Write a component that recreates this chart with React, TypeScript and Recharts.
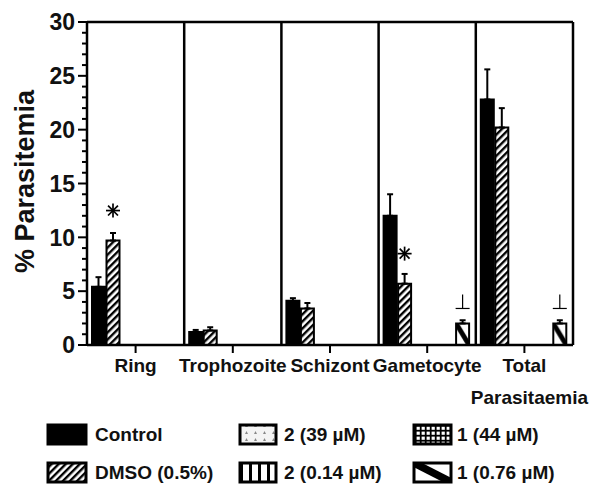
import React from 'react';
import { BarChart, Bar, XAxis, YAxis, ErrorBar, ReferenceLine, Legend, LabelList } from 'recharts';

const categories = ['Ring', 'Trophozoite', 'Schizont', 'Gametocyte', 'Total\nParasitaemia'];
const controlValues = [5.4, 1.2, 4.1, 12.0, 22.8];
const controlErrors = [0.9, 0.2, 0.25, 2.0, 2.8];
const dmsoValues = [9.7, 1.35, 3.4, 5.7, 20.2];
const dmsoErrors = [0.7, 0.3, 0.5, 0.9, 1.8];
const cmpd2HighValues: (number | null)[] = [null, null, null, null, null];
const cmpd2LowValues: (number | null)[] = [null, null, null, null, null];
const cmpd1HighValues: (number | null)[] = [null, null, null, null, null];
const cmpd1LowValues: (number | null)[] = [null, null, null, 2.0, 2.0];
const cmpd1LowErrors: (number | null)[] = [null, null, null, 0.3, 0.3];
const dmsoMarks = ['*', '', '', '*', ''];
const cmpd1LowMarks = ['', '', '', '⊥', '⊥'];
const seriesNames = ['Control', 'DMSO (0.5%)', '2 (39 µM)', '2 (0.14 µM)', '1 (44 µM)', '1 (0.76 µM)'];
const seriesFills = ['#000', 'url(#pDmso)', 'url(#p39)', 'url(#p014)', 'url(#p44)', 'url(#p076)'];
const yTicks = [0, 1, 2, 3, 4, 5, 6, 7, 8, 9, 10, 11, 12, 13, 14, 15, 16, 17, 18, 19, 20, 21, 22, 23, 24, 25, 26, 27, 28, 29, 30];
const yMajorTicks = [0, 5, 10, 15, 20, 25, 30];

const data = categories.map((category, i) => ({
  category,
  control: controlValues[i],
  controlErr: [0, controlErrors[i]],
  dmso: dmsoValues[i],
  dmsoErr: [0, dmsoErrors[i]],
  dmsoMark: dmsoMarks[i],
  c2high: cmpd2HighValues[i],
  c2low: cmpd2LowValues[i],
  c1high: cmpd1HighValues[i],
  c1low: cmpd1LowValues[i],
  c1lowErr: cmpd1LowErrors[i] == null ? null : [0, cmpd1LowErrors[i] as number],
  c1lowMark: cmpd1LowMarks[i],
}));

const FONT = '"Liberation Sans", Arial, Helvetica, sans-serif';

const PatternDefs = () => (
  <defs>
    <pattern id="pDmso" width="5" height="5" patternUnits="userSpaceOnUse" patternTransform="rotate(45)">
      <rect width="5" height="5" fill="#fff" />
      <rect width="2.4" height="5" fill="#000" />
    </pattern>
    <pattern id="p39" width="9" height="7" patternUnits="userSpaceOnUse">
      <rect width="9" height="7" fill="#f4f4f4" />
      <polygon points="2,5 3.5,2 5,5" fill="#888" />
    </pattern>
    <pattern id="p014" width="9" height="9" patternUnits="userSpaceOnUse">
      <rect width="9" height="9" fill="#fff" />
      <rect x="6" width="3" height="9" fill="#000" />
    </pattern>
    <pattern id="p44" width="5" height="5" patternUnits="userSpaceOnUse">
      <rect width="5" height="5" fill="#000" />
      <rect x="1.6" y="1.6" width="3.2" height="3.2" fill="#fff" />
    </pattern>
    <pattern id="p076" width="1" height="1" patternUnits="objectBoundingBox" patternContentUnits="objectBoundingBox">
      <rect width="1" height="1" fill="#fff" />
      <polygon points="0,0 0.22,0 1,0.78 1,1 0.78,1 0,0.22" fill="#000" />
    </pattern>
  </defs>
);

const YTick = (props: any) => {
  const { x, y, payload } = props;
  const major = yMajorTicks.includes(payload.value);
  return (
    <g>
      <line x1={x - (major ? 9 : 5)} x2={x} y1={y} y2={y} stroke="#000" strokeWidth={2} />
      {major && (
        <text x={x - 12} y={y} dy="0.36em" textAnchor="end" fontFamily={FONT} fontWeight="bold" fontSize={23} fill="#111">
          {payload.value}
        </text>
      )}
    </g>
  );
};

const XTick = (props: any) => {
  const { x, y, payload } = props;
  const lines = String(payload.value).split('\n');
  return (
    <g>
      {lines.map((line, i) => (
        <text key={i} x={x + (i === 0 ? 0 : 5)} y={y + 19 + i * 32} textAnchor="middle" fontFamily={FONT} fontWeight="bold" fontSize={19} fill="#111">
          {line}
        </text>
      ))}
    </g>
  );
};

const MarkLabel = (props: any) => {
  const { x, y, width, value } = props;
  if (!value) return null;
  const cx = Number(x) + Number(width) / 2;
  const top = Number(y);
  if (value === '*') {
    const cy = top - 30;
    const r = 7;
    return (
      <g stroke="#000" strokeWidth={1.7}>
        {[0, 45, 90, 135].map((a) => {
          const rad = (a * Math.PI) / 180;
          return <line key={a} x1={cx - r * Math.cos(rad)} y1={cy - r * Math.sin(rad)} x2={cx + r * Math.cos(rad)} y2={cy + r * Math.sin(rad)} />;
        })}
      </g>
    );
  }
  return (
    <g stroke="#000" strokeWidth={1.2}>
      <line x1={cx} y1={top - 29} x2={cx} y2={top - 15} />
      <line x1={cx - 7} y1={top - 15} x2={cx + 7} y2={top - 15} />
    </g>
  );
};

const YLabel = (props: any) => {
  const { viewBox } = props;
  const cx = 24;
  const cy = viewBox.y + viewBox.height / 2 - 2;
  return (
    <text x={cx} y={cy} transform={`rotate(-90 ${cx} ${cy})`} textAnchor="middle" dy="0.36em" fontFamily={FONT} fontWeight="bold" fontSize={27} fill="#111">
      % Parasitemia
    </text>
  );
};

const colSwatchX = [48, 240, 414];
const colSwatchW = [38, 36, 37];
const colTextX = [95, 284, 457];
const rowSwatchY = [10, 48];

const LegendContent = () => (
  <svg width={600} height={80} style={{ display: 'block' }}>
    {seriesNames.map((name, i) => {
      const col = Math.floor(i / 2);
      const row = i % 2;
      return (
        <g key={name}>
          <rect x={colSwatchX[col]} y={rowSwatchY[row]} width={colSwatchW[col]} height={19} fill={seriesFills[i]} stroke="#000" strokeWidth={3} />
          <text x={colTextX[col]} y={rowSwatchY[row] + 16} fontFamily={FONT} fontWeight="bold" fontSize={19} fill="#111">
            {name}
          </text>
        </g>
      );
    })}
  </svg>
);

export default function App() {
  return (
    <div style={{ position: 'absolute', left: 0, top: 0, width: 600, height: 495, background: '#fff' }}>
      <BarChart width={600} height={495} data={data} margin={{ top: 22, right: 27, bottom: 90, left: 0 }} barCategoryGap={5} barGap={1.5}>
        <PatternDefs />
        <XAxis dataKey="category" interval={0} tickSize={8} tickMargin={0} height={60} axisLine={{ stroke: '#000', strokeWidth: 2.5 }} tickLine={{ stroke: '#000', strokeWidth: 2 }} tick={<XTick />} />
        <YAxis domain={[0, 30]} ticks={yTicks} interval={0} width={87} tickSize={0} tickMargin={0} tickLine={false} axisLine={{ stroke: '#000', strokeWidth: 2.5 }} tick={<YTick />} label={<YLabel />} />
        <ReferenceLine y={30} stroke="#000" strokeWidth={2.5} />
        {categories.slice(1).map((c) => (
          <ReferenceLine key={c} x={c} position="start" stroke="#000" strokeWidth={2.5} />
        ))}
        <ReferenceLine x={categories[categories.length - 1]} position="end" stroke="#000" strokeWidth={2.5} />
        <Bar dataKey="control" name={seriesNames[0]} fill={seriesFills[0]} stroke="#000" strokeWidth={2} isAnimationActive={false}>
          <ErrorBar dataKey="controlErr" direction="y" width={3} stroke="#000" strokeWidth={2} />
        </Bar>
        <Bar dataKey="dmso" name={seriesNames[1]} fill={seriesFills[1]} stroke="#000" strokeWidth={2} isAnimationActive={false}>
          <ErrorBar dataKey="dmsoErr" direction="y" width={3} stroke="#000" strokeWidth={2} />
          <LabelList dataKey="dmsoMark" content={<MarkLabel />} />
        </Bar>
        <Bar dataKey="c2high" name={seriesNames[2]} fill={seriesFills[2]} stroke="#000" strokeWidth={2} isAnimationActive={false} />
        <Bar dataKey="c2low" name={seriesNames[3]} fill={seriesFills[3]} stroke="#000" strokeWidth={2} isAnimationActive={false} />
        <Bar dataKey="c1high" name={seriesNames[4]} fill={seriesFills[4]} stroke="#000" strokeWidth={2} isAnimationActive={false} />
        <Bar dataKey="c1low" name={seriesNames[5]} fill={seriesFills[5]} stroke="#000" strokeWidth={2} isAnimationActive={false}>
          <ErrorBar dataKey="c1lowErr" direction="y" width={3} stroke="#000" strokeWidth={2} />
          <LabelList dataKey="c1lowMark" content={<MarkLabel />} />
        </Bar>
        <Legend layout="vertical" align="center" verticalAlign="middle" content={<LegendContent />} wrapperStyle={{ position: 'absolute', left: 0, top: 415, width: 600, height: 80, margin: 0, padding: 0 }} />
      </BarChart>
    </div>
  );
}
